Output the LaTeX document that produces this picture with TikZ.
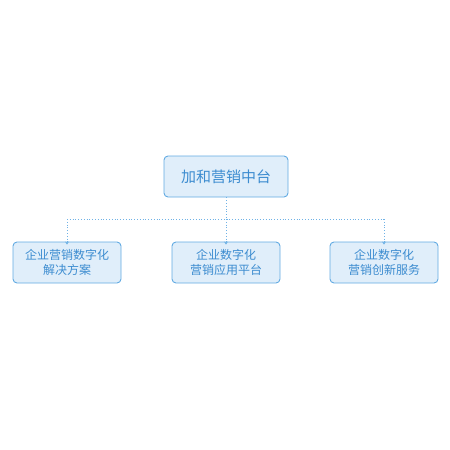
\documentclass[tikz,border=0pt]{standalone}
\usepackage{fontspec}
\setmainfont{Noto Sans CJK SC}
\usepackage{tikz}
\usetikzlibrary{arrows.meta}
\definecolor{boxline}{HTML}{62AAE2}
\definecolor{boxfill}{HTML}{E0EEFA}
\definecolor{boxtext}{HTML}{3C8CD0}
\definecolor{linkline}{HTML}{6FB2E6}
\tikzset{
    every node/.style={rectangle, rounded corners=4pt, draw=boxline, fill=boxfill,
    	line width=0.9pt, text=boxtext, align=center, inner sep=0pt}
}
\tikzset{
    toplevel/.style={minimum width=124pt, minimum height=41pt, font=\fontsize{15}{18}\selectfont},
    sublevel/.style={minimum width=108pt, minimum height=41pt, font=\fontsize{12}{15}\selectfont},
    link/.style={draw=linkline, line width=0.8pt, dotted, -{Stealth[length=3pt,width=4pt]}}
}

\begin{document}
\begin{tikzpicture}[x=1pt, y=-1pt]
	\useasboundingbox (0,0) rectangle (450,450);
	\node (top) [toplevel] at (226, 176.5) {加和营销中台};
	\node (left) [sublevel] at (67, 262.5) {企业营销数字化\\解决方案};
	\node (mid) [sublevel] at (226, 262.5) {企业数字化\\营销应用平台};
	\node (right) [sublevel] at (384, 262.5) {企业数字化\\营销创新服务};
	\coordinate (split) at (226, 219);
	\coordinate (splitl) at (67, 219);
	\coordinate (splitr) at (384, 219);

	\draw [link, -] (top) -- (split);
	\draw [link] (split) -- ([yshift=-3pt]mid.north);
	\draw [link] (splitl) -- ([yshift=-3pt]left.north);
	\draw [link] (splitr) -- ([yshift=-3pt]right.north);
	\draw [link, -] (splitl) -- (splitr);
\end{tikzpicture}
\end{document}
